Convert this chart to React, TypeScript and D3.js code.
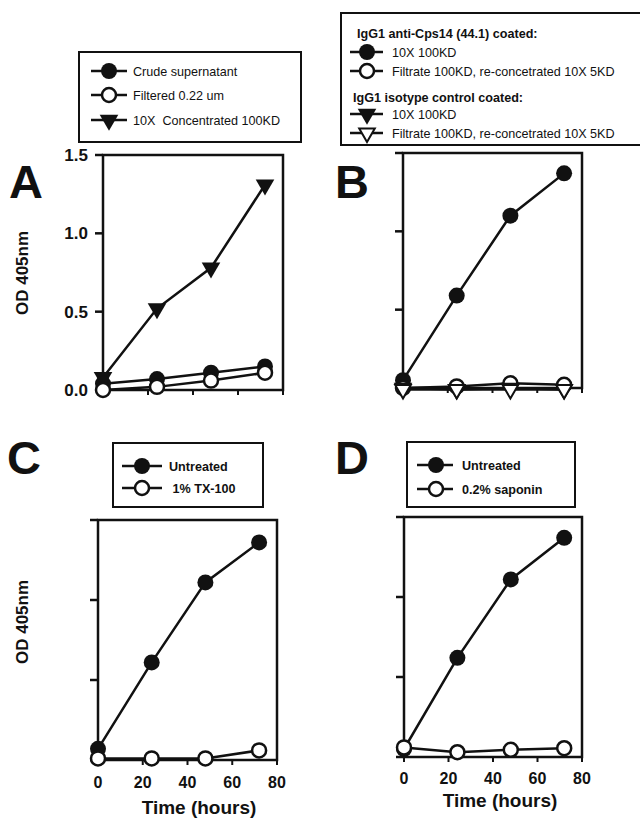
import * as d3 from "d3";

// shared axes
const TIME_HOURS = [0, 24, 48, 72];
const X_TICKS = [0, 20, 40, 60, 80];
const Y_TICKS = [0, 0.5, 1.0, 1.5];
const Y_TICK_LABELS = ["0.0", "0.5", "1.0", "1.5"];

// panel A
const A_CRUDE = [0.04, 0.07, 0.11, 0.15];
const A_FILTERED = [0.0, 0.02, 0.06, 0.11];
const A_CONC = [0.08, 0.52, 0.78, 1.31];
const A_LABELS = ["Crude supernatant", "Filtered 0.22 um", "10X  Concentrated 100KD"];

// panel B
const B_ANTI_10X = [0.05, 0.59, 1.1, 1.37];
const B_ANTI_FILT = [0.0, 0.01, 0.03, 0.02];
const B_ISO_10X = [0.0, -0.01, 0.0, -0.01];
const B_ISO_FILT = [-0.01, -0.01, -0.01, -0.01];
const B_TITLES = ["IgG1 anti-Cps14 (44.1) coated:", "IgG1 isotype control coated:"];
const B_LABELS = ["10X 100KD", "Filtrate 100KD, re-concetrated 10X 5KD"];

// panel C
const C_UNTREATED = [0.07, 0.61, 1.11, 1.36];
const C_TX = [0.01, 0.01, 0.01, 0.06];
const C_LABELS = ["Untreated", " 1% TX-100"];

// panel D
const D_UNTREATED = [0.05, 0.62, 1.11, 1.37];
const D_SAPONIN = [0.06, 0.03, 0.045, 0.055];
const D_LABELS = ["Untreated", "0.2% saponin"];

const FONT = "'Liberation Sans', Arial, Helvetica, sans-serif";
const INK = "#111";

type Kind = "dot" | "ring" | "tri" | "triOpen";

const triFilled = d3.symbol(d3.symbolTriangle, 150)()!;
const triOpen = d3.symbol(d3.symbolTriangle, 105)()!;

function Marker({ kind, x, y }: { kind: Kind; x: number; y: number }) {
  if (kind === "dot") return <circle cx={x} cy={y} r={8} fill={INK} />;
  if (kind === "ring")
    return <circle cx={x} cy={y} r={7} fill="#fff" stroke={INK} strokeWidth={2.5} />;
  if (kind === "tri")
    return <path d={triFilled} transform={`translate(${x},${y}) rotate(180)`} fill={INK} />;
  return (
    <path d={triOpen} transform={`translate(${x},${y}) rotate(180)`} fill="#fff" stroke={INK} strokeWidth={2} />
  );
}

function LegendRow({ kind, x1, x2, mx, y, tx, label, bold }: any) {
  return (
    <g>
      <line x1={x1} x2={x2} y1={y} y2={y} stroke={INK} strokeWidth={2.5} />
      <Marker kind={kind} x={mx} y={y} />
      <text
        x={tx}
        y={y}
        dy="0.36em"
        fontSize={12.6}
        fontWeight={bold ? "bold" : "normal"}
        fill={INK}
        style={{ whiteSpace: "pre" }}
      >
        {label}
      </text>
    </g>
  );
}

type PanelProps = {
  left: number;
  right: number;
  bottom: number;
  top: number;
  series: { values: number[]; kind: Kind }[];
  yLabels?: boolean;
  xLabels?: boolean;
  xLabelY?: number;
};

function Panel({ left, right, bottom, top, series, yLabels, xLabels, xLabelY }: PanelProps) {
  const x = d3.scaleLinear().domain([0, 80]).range([left, right]);
  const y = d3.scaleLinear().domain([0, 1.5]).range([bottom, top]);
  const line = d3
    .line<number>()
    .x((_, i) => x(TIME_HOURS[i]))
    .y((d) => y(d));
  return (
    <g>
      {/* frame */}
      <rect x={left} y={top} width={right - left} height={bottom - top} fill="none" stroke={INK} strokeWidth={2.5} />
      {Y_TICKS.map((t) => (
        <line key={t} x1={left - 8} x2={left} y1={y(t)} y2={y(t)} stroke={INK} strokeWidth={2.5} />
      ))}
      {X_TICKS.map((t) => (
        <line key={t} x1={x(t)} x2={x(t)} y1={bottom} y2={bottom + 5} stroke={INK} strokeWidth={2} />
      ))}
      {yLabels &&
        Y_TICKS.map((t, i) => (
          <text key={t} x={left - 15} y={y(t)} dy="0.36em" textAnchor="end" fontSize={17} fontWeight="bold" fill={INK}>
            {Y_TICK_LABELS[i]}
          </text>
        ))}
      {xLabels &&
        X_TICKS.map((t) => (
          <text key={t} x={x(t)} y={xLabelY} dy="0.36em" textAnchor="middle" fontSize={16} fontWeight="bold" fill={INK}>
            {t}
          </text>
        ))}
      {series.map((s, si) => (
        <g key={si}>
          <path d={line(s.values)!} fill="none" stroke={INK} strokeWidth={2.5} />
          {s.values.map((v, i) => (
            <Marker key={i} kind={s.kind} x={x(TIME_HOURS[i])} y={y(v)} />
          ))}
        </g>
      ))}
    </g>
  );
}

function Letter({ x, y, ch }: { x: number; y: number; ch: string }) {
  return (
    <text x={x} y={y} fontSize={47} fontWeight="bold" fill={INK}>
      {ch}
    </text>
  );
}

function YTitle({ cx, cy }: { cx: number; cy: number }) {
  return (
    <text
      transform={`translate(${cx},${cy}) rotate(-90)`}
      dy="0.36em"
      textAnchor="middle"
      fontSize={17}
      fontWeight="bold"
      fill={INK}
    >
      OD 405nm
    </text>
  );
}

function XTitle({ cx, cy }: { cx: number; cy: number }) {
  return (
    <text x={cx} y={cy} dy="0.36em" textAnchor="middle" fontSize={19} fontWeight="bold" fill={INK}>
      Time (hours)
    </text>
  );
}

export default function App() {
  return (
    <svg
      width={640}
      height={820}
      style={{ position: "absolute", left: 0, top: 0, background: "#fff" }}
      fontFamily={FONT}
    >
      <rect width={640} height={820} fill="#fff" />

      {/* Panel A */}
      <rect x={79} y={52} width={222} height={90} fill="#fff" stroke={INK} strokeWidth={2} />
      {A_LABELS.map((l, i) => (
        <LegendRow key={l} kind={["dot", "ring", "tri"][i]} x1={91} x2={127} mx={109} y={[71, 95, 120][i]} tx={133} label={l} />
      ))}
      <Letter x={9} y={198} ch="A" />
      <YTitle cx={22} cy={273} />
      <Panel
        left={103}
        right={283}
        bottom={390}
        top={155}
        yLabels
        series={[
          { values: A_CONC, kind: "tri" },
          { values: A_CRUDE, kind: "dot" },
          { values: A_FILTERED, kind: "ring" },
        ]}
      />

      {/* Panel B */}
      <rect x={341} y={13} width={310} height={132} fill="#fff" stroke={INK} strokeWidth={2} />
      <text x={357} y={33} dy="0.36em" fontSize={12.6} fontWeight="bold" fill={INK}>
        {B_TITLES[0]}
      </text>
      <LegendRow kind="dot" x1={350} x2={383} mx={367} y={52} tx={392} label={B_LABELS[0]} />
      <LegendRow kind="ring" x1={350} x2={383} mx={367} y={71} tx={392} label={B_LABELS[1]} />
      <text x={353} y={97} dy="0.36em" fontSize={12.6} fontWeight="bold" fill={INK}>
        {B_TITLES[1]}
      </text>
      <LegendRow kind="tri" x1={350} x2={383} mx={367} y={114} tx={392} label={B_LABELS[0]} />
      <LegendRow kind="triOpen" x1={350} x2={383} mx={367} y={133} tx={392} label={B_LABELS[1]} />
      <Letter x={335} y={198} ch="B" />
      <Panel
        left={403}
        right={582}
        bottom={388}
        top={153}
        series={[
          { values: B_ANTI_10X, kind: "dot" },
          { values: B_ANTI_FILT, kind: "ring" },
          { values: B_ISO_10X, kind: "tri" },
          { values: B_ISO_FILT, kind: "triOpen" },
        ]}
      />

      {/* Panel C */}
      <Letter x={7} y={474} ch="C" />
      <rect x={113} y={443} width={150} height={64} fill="#fff" stroke={INK} strokeWidth={2} />
      <LegendRow kind="dot" x1={122} x2={162} mx={142} y={466} tx={169} label={C_LABELS[0]} bold />
      <LegendRow kind="ring" x1={122} x2={162} mx={142} y={488} tx={169} label={C_LABELS[1]} bold />
      <YTitle cx={22} cy={622} />
      <Panel
        left={98}
        right={277}
        bottom={760}
        top={520}
        xLabels
        xLabelY={782}
        series={[
          { values: C_UNTREATED, kind: "dot" },
          { values: C_TX, kind: "ring" },
        ]}
      />
      <XTitle cx={199} cy={807} />

      {/* Panel D */}
      <Letter x={335} y={474} ch="D" />
      <rect x={407} y={442} width={168} height={65} fill="#fff" stroke={INK} strokeWidth={2} />
      <LegendRow kind="dot" x1={417} x2={453} mx={436} y={465} tx={462} label={D_LABELS[0]} bold />
      <LegendRow kind="ring" x1={417} x2={453} mx={436} y={489} tx={462} label={D_LABELS[1]} bold />
      <Panel
        left={404}
        right={582}
        bottom={757}
        top={517}
        xLabels
        xLabelY={778}
        series={[
          { values: D_UNTREATED, kind: "dot" },
          { values: D_SAPONIN, kind: "ring" },
        ]}
      />
      <XTitle cx={500} cy={800} />
    </svg>
  );
}
